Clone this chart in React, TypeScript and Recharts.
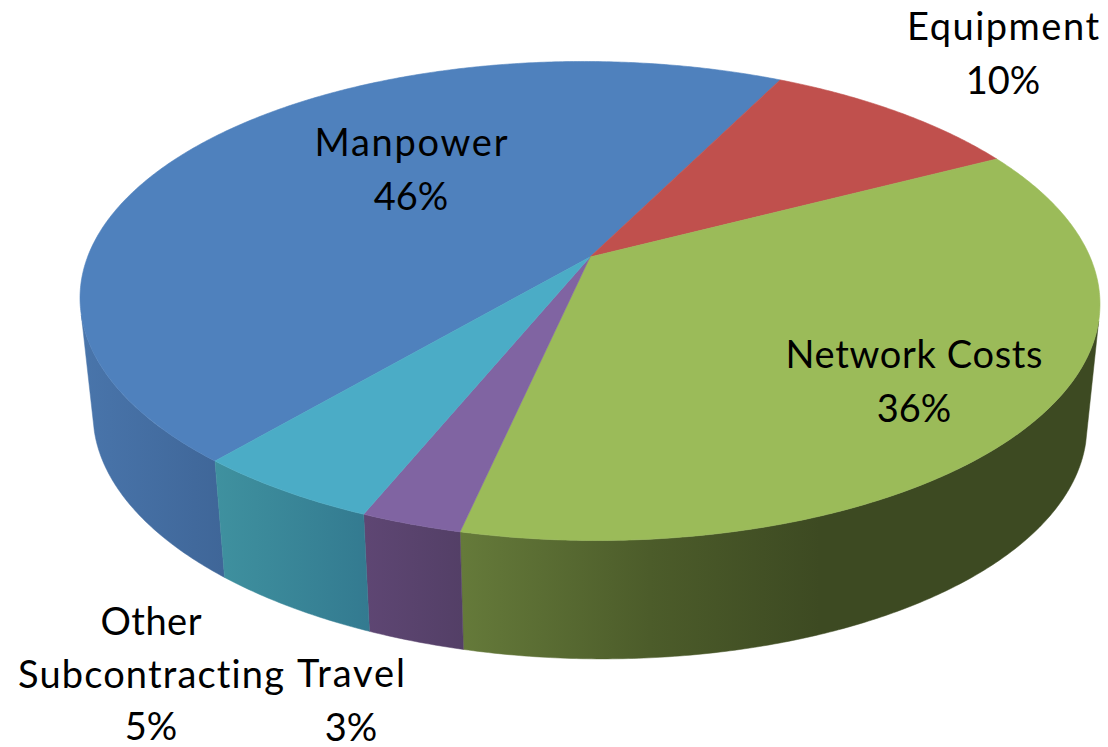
import React from 'react';
import { PieChart, Pie, Cell } from 'recharts';

const categories = ['Manpower', 'Equipment', 'Network Costs', 'Travel', 'Other Subcontracting'];
const shares = [46.17, 9.9, 36.23, 2.7, 5];
const labelLines = [['Manpower', '46%'], ['Equipment', '10%'], ['Network Costs', '36%'], ['Travel', '3%'], ['Other', 'Subcontracting', '5%']];
const tableRows = categories.map((name, i) => ({ name, value: shares[i] }));

const topColors = ['#4f81bd', '#c0504d', '#9bbb59', '#8064a2', '#4bacc6'];
const wallStops: Record<string, [number, string][]> = {
  Manpower: [[80, '#4975ab'], [224, '#3f6698']],
  Equipment: [[0, '#8c3a38'], [1, '#8c3a38']],
  'Network Costs': [[462, '#657a3a'], [650, '#4c5c2a'], [820, '#3d4a22'], [1100, '#3d4a22']],
  Travel: [[365, '#5e4673'], [466, '#533f66']],
  'Other Subcontracting': [[215, '#3f919f'], [370, '#337a90']],
};
const labelAnchors: Record<string, [number, number, number]> = {
  Manpower: [411, 156, 54],
  Equipment: [1003, 40, 54],
  'Network Costs': [914, 368, 54],
  Travel: [351, 687, 53.5],
  'Other Subcontracting': [151, 635, 52.5],
};
const wordWidths: Record<string, number> = {
  Manpower: 193,
  Equipment: 192,
  'Network Costs': 257,
  Travel: 108,
  Other: 101,
  Subcontracting: 266,
};

const W = 1108;
const H = 747;
const START = -130;
const PERSPECTIVE = -0.1837;
const topPlane = { c: 501.3, a: 184.2, b: 257, s: 0.006 };
const basePlane = { c: 488.5, a: 161.8, b: 376, s: 0.012 };
const CX = 590;
const FRONT_FROM = 104.6;
const FRONT_TO = 255.4;

// a = degrees clockwise from the back of the disc
function project(plane: { c: number; a: number; b: number; s: number }, a: number): [number, number] {
  const r = (a * Math.PI) / 180;
  const u = Math.sin(r);
  const v = -Math.cos(r);
  const w = 1 + PERSPECTIVE * v;
  const dx = (plane.c * u) / w;
  return [CX + dx, (plane.a * v + plane.b) / w + plane.s * dx];
}
function span(p: any): [number, number] {
  let a1 = (90 - p.startAngle) % 360;
  if (a1 < 0) a1 += 360;
  const d = Math.abs(p.endAngle - p.startAngle);
  return [a1, a1 + d];
}
function arc(plane: any, a1: number, a2: number): [number, number][] {
  const out: [number, number][] = [];
  const n = Math.max(2, Math.ceil(Math.abs(a2 - a1) * 2));
  for (let i = 0; i <= n; i++) out.push(project(plane, a1 + ((a2 - a1) * i) / n));
  return out;
}
const toPath = (pts: [number, number][]) =>
  pts.map((q, i) => `${i ? 'L' : 'M'}${q[0].toFixed(2)} ${q[1].toFixed(2)}`).join(' ') + ' Z';

function TopFace(p: any) {
  const [a1, a2] = span(p);
  const pts = [[CX, topPlane.b] as [number, number], ...arc(topPlane, a1, a2)];
  return <path d={toPath(pts)} fill={p.fill} stroke={p.fill} strokeWidth={0.6} />;
}
function Wall(p: any) {
  const [a1, a2] = span(p);
  const lo = Math.max(a1, FRONT_FROM);
  const hi = Math.min(a2, FRONT_TO);
  if (hi <= lo) return <g />;
  const id = 'wall' + String(p.name).replace(/\W/g, '');
  const stops = wallStops[p.name];
  const x0 = stops[0][0];
  const x1 = stops[stops.length - 1][0];
  const pts = [...arc(topPlane, lo, hi), ...arc(basePlane, hi, lo)];
  return (
    <g>
      <defs>
        <linearGradient id={id} gradientUnits="userSpaceOnUse" x1={x0} x2={x1} y1={0} y2={0}>
          {stops.map(([x, c]) => (
            <stop key={x} offset={(x - x0) / (x1 - x0)} stopColor={c} />
          ))}
        </linearGradient>
      </defs>
      <path d={toPath(pts)} fill={`url(#${id})`} stroke={`url(#${id})`} strokeWidth={0.5} />
    </g>
  );
}
function SliceLabel(p: any) {
  const i = categories.indexOf(p.name);
  const [x, y, step] = labelAnchors[p.name];
  return (
    <text x={x} y={y} textAnchor="middle" fill="#000" stroke="none" fontFamily="Lato, 'Open Sans', sans-serif" fontSize={38} style={{ fontVariantLigatures: 'none' }}>
      {labelLines[i].map((t, k) => (
        <tspan key={k} x={x} y={y + k * step} textLength={wordWidths[t]} lengthAdjust={wordWidths[t] ? 'spacing' : undefined}>{t}</tspan>
      ))}
    </text>
  );
}

export default function App() {
  return (
    <div style={{ position: 'absolute', left: 0, top: 0, width: W, height: H, background: '#fff', overflow: 'hidden' }}>
      <PieChart width={W} height={H} margin={{ top: 0, right: 0, bottom: 0, left: 0 }}>
        <Pie data={tableRows} dataKey="value" nameKey="name" cx={CX} cy={300} outerRadius={240}
          startAngle={START} endAngle={START - 360} paddingAngle={0} isAnimationActive={false}
          shape={Wall} label={false} labelLine={false} legendType="none">
          {tableRows.map((r, i) => <Cell key={r.name} fill={topColors[i]} />)}
        </Pie>
        <Pie data={tableRows} dataKey="value" nameKey="name" cx={CX} cy={300} outerRadius={240}
          startAngle={START} endAngle={START - 360} paddingAngle={0} isAnimationActive={false}
          shape={TopFace} label={SliceLabel} labelLine={false} legendType="none">
          {tableRows.map((r, i) => <Cell key={r.name} fill={topColors[i]} />)}
        </Pie>
      </PieChart>
    </div>
  );
}
